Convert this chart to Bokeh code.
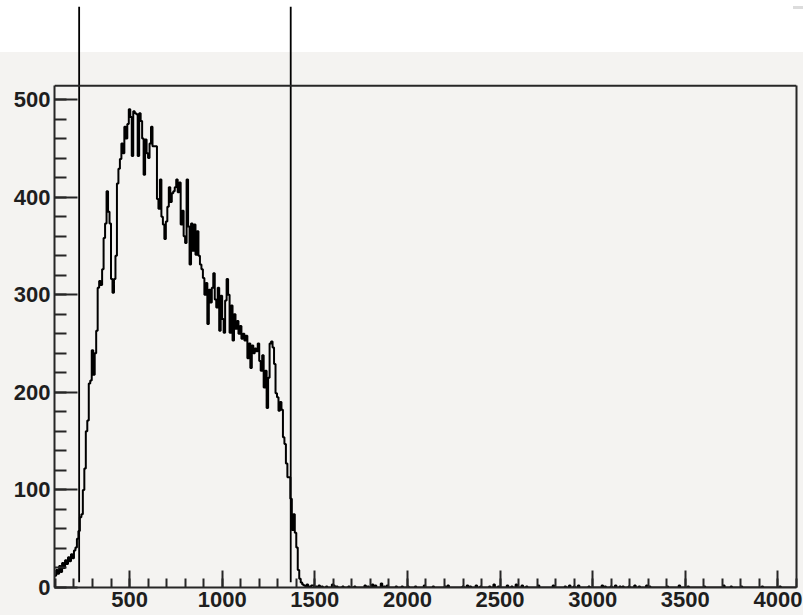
import numpy as np
from bokeh.plotting import figure
from bokeh.models import (LinearAxis, SingleIntervalTicker, FixedTicker, Span, Range1d)
from bokeh.embed import file_html
from bokeh.resources import INLINE

# Histogram binning (channel units)
BIN_START = 96
BIN_WIDTH = 8
BIN_STOP = 4104

# Counts per bin from 96 up to the 1480 bin
main_counts = [
    12, 18, 14, 22, 16, 25, 20, 28, 24, 31, 27, 34, 30, 38, 41, 50,
    58, 72, 75, 100, 122, 160, 171, 209, 212, 243, 218, 240, 263, 307,
    314, 310, 326, 358, 373, 406, 385, 373, 316, 302, 316, 340, 414, 429,
    439, 455, 445, 472, 460, 475, 490, 482, 442, 488, 486, 485, 442, 486,
    478, 460, 423, 459, 445, 440, 455, 472, 452, 452, 452, 398, 388, 418,
    380, 372, 357, 375, 390, 410, 395, 404, 406, 410, 418, 405, 415, 372,
    386, 360, 353, 418, 370, 331, 373, 345, 372, 341, 365, 340, 331, 326,
    317, 300, 312, 270, 305, 292, 307, 322, 295, 287, 307, 263, 299, 275,
    261, 294, 316, 300, 261, 289, 253, 280, 265, 273, 260, 268, 255, 260,
    253, 258, 235, 250, 225, 248, 240, 245, 242, 250, 232, 222, 238, 205,
    222, 184, 215, 250, 252, 246, 229, 199, 195, 181, 190, 182, 154, 147,
    127, 113, 113, 91, 59, 75, 56, 41, 18, 9, 5, 3, 2, 1, 3, 1, 0, 2,
]

# Sparse counts in the high-channel tail (bin start, count)
tail_bins = [
    1488, 1504, 1520, 1536, 1560, 1592, 1600, 1616, 1648, 1680, 1712, 1768,
    1784, 1808, 1824, 1856, 1872, 1888, 1936, 1968, 2000, 2040, 2088, 2136,
    2200, 2216, 2296, 2320, 2336, 2368, 2392, 2440, 2464, 2488, 2536, 2560,
    2584, 2616, 2640, 2704, 2784, 2848, 2872, 2896, 2920, 2976, 3048, 3064,
    3096, 3120, 3144, 3160, 3192, 3224, 3248, 3288, 3304, 3400, 3464, 3512,
    3600, 3704, 3744, 3800, 3912, 4008,
]
tail_counts = [
    2, 1, 2, 1, 1, 3, 2, 1, 1, 1, 1, 2,
    1, 3, 2, 4, 1, 2, 1, 1, 1, 1, 2, 1,
    1, 2, 1, 2, 1, 2, 1, 1, 3, 1, 2, 1,
    3, 2, 1, 2, 2, 1, 2, 1, 2, 1, 2, 1,
    1, 2, 1, 1, 1, 2, 1, 2, 1, 1, 2, 1,
    1, 2, 1, 1, 1, 1,
]

# Selection window markers
cut_lines = [228, 1370]

# Axis settings
x_limits = (95, 4100)
y_limits = (0, 595.3)
frame_top_value = 514
x_major_step = 500
y_major_step = 100

edges = np.arange(BIN_START, BIN_STOP + BIN_WIDTH, BIN_WIDTH)
counts = np.zeros(len(edges) - 1)
counts[:len(main_counts)] = main_counts
for b, c in zip(tail_bins, tail_counts):
    counts[(b - BIN_START) // BIN_WIDTH] = c

BG = "#f4f3f1"
FRAME = "#262626"
LABEL_FONT = "Liberation Sans"

p = figure(
    width=803, height=615,
    x_range=Range1d(*x_limits), y_range=Range1d(*y_limits),
    output_backend="svg", toolbar_location=None,
    min_border_left=54, min_border_right=7,
    min_border_top=6, min_border_bottom=28,
    background_fill_alpha=0.0, border_fill_alpha=0.0,
    outline_line_color=None,
)
# Canvas is transparent: white band on top, light grey pad below, small grey dash at the corner
p.styles = {
    "background": (
        "linear-gradient(#dcdcdc, #dcdcdc) 793px 6px / 10px 3px no-repeat, "
        f"linear-gradient(to bottom, #ffffff 0px, #ffffff 52px, {BG} 52px, {BG} 100%)"
    )
}
p.xgrid.visible = False
p.ygrid.visible = False

# Axes styled with inward ticks
xa = p.xaxis[0]
xa.ticker = SingleIntervalTicker(interval=x_major_step, num_minor_ticks=5)
ya = p.yaxis[0]
ya.ticker = SingleIntervalTicker(interval=y_major_step, num_minor_ticks=5)
ya.bounds = (0, frame_top_value)

for ax in (xa, ya):
    ax.axis_line_color = FRAME
    ax.axis_line_width = 2
    ax.major_tick_line_color = FRAME
    ax.minor_tick_line_color = FRAME
    ax.major_tick_line_width = 2
    ax.minor_tick_line_width = 2
    ax.major_tick_out = 0
    ax.minor_tick_out = 0
    ax.major_label_text_font = LABEL_FONT
    ax.major_label_text_font_style = "bold"
    ax.major_label_text_font_size = "22px"
    ax.major_label_text_color = "#1e1e1e"

xa.major_tick_in = 17
xa.minor_tick_in = 9
xa.major_label_standoff = 4
ya.major_tick_in = 23
ya.minor_tick_in = 12
ya.major_label_standoff = 4

# Right frame edge as a bare axis line
right_axis = LinearAxis(
    bounds=(0, frame_top_value), ticker=FixedTicker(ticks=[]),
    axis_line_color=FRAME, axis_line_width=2,
    major_tick_line_color=None, minor_tick_line_color=None,
    major_tick_out=0, minor_tick_out=0, major_tick_in=0, minor_tick_in=0,
    major_label_standoff=0,
)
p.add_layout(right_axis, "right")

# Top frame edge
p.add_layout(Span(location=frame_top_value, dimension="width",
                  line_color=FRAME, line_width=2))

# Histogram drawn as a staircase
step_y = np.append(counts, counts[-1])
p.step(x=edges, y=step_y, mode="after", line_color="black", line_width=2)

# Vertical window markers
p.segment(x0=cut_lines, y0=[5.4] * len(cut_lines),
          x1=cut_lines, y1=[y_limits[1]] * len(cut_lines),
          line_color="black", line_width=1.8)

open("out.html", "w").write(file_html(p, INLINE))
